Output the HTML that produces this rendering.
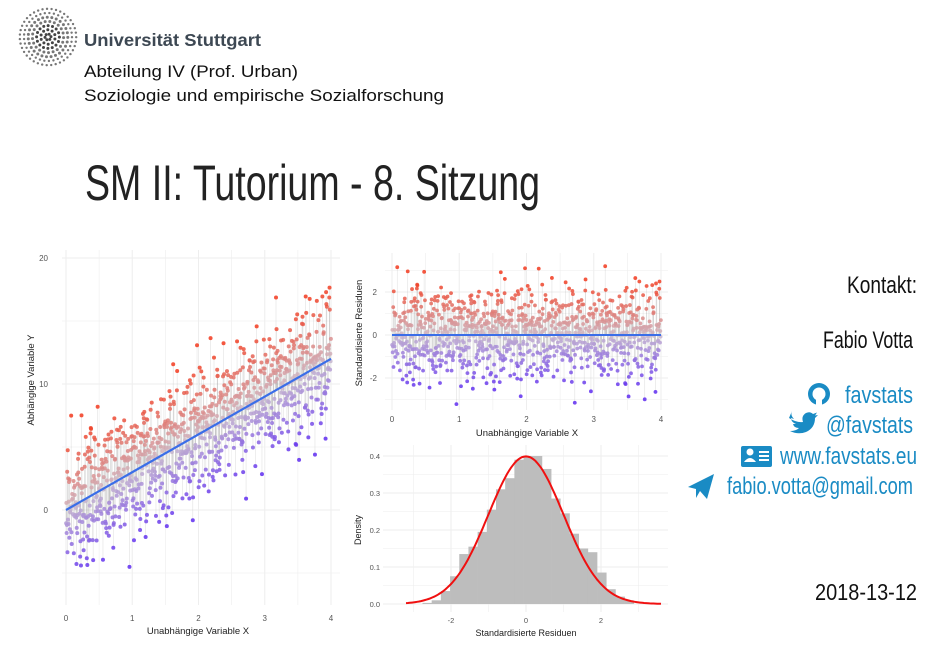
<!DOCTYPE html>
<html><head><meta charset="utf-8"><style>
html,body{margin:0;padding:0;background:#fff;width:948px;height:656px;overflow:hidden}
svg{display:block}
text{font-family:"Liberation Sans",sans-serif}
.cond{font-family:"Liberation Sans Narrow","Liberation Sans",sans-serif}
</style></head><body>
<svg id="page" width="948" height="656" viewBox="0 0 948 656" xmlns="http://www.w3.org/2000/svg">
<g id="logo"></g>
<text x="84" y="46" font-size="17.5" font-weight="bold" fill="#3d4853" textLength="177" lengthAdjust="spacingAndGlyphs">Universität Stuttgart</text>
<text x="84" y="77" font-size="16.5" fill="#111" textLength="214" lengthAdjust="spacingAndGlyphs">Abteilung IV (Prof. Urban)</text>
<text x="84" y="101" font-size="16.5" fill="#111" textLength="360" lengthAdjust="spacingAndGlyphs">Soziologie und empirische Sozialforschung</text>
<text class="cond" x="85" y="200" font-size="50" fill="#222" textLength="455" lengthAdjust="spacingAndGlyphs">SM II: Tutorium - 8. Sitzung</text>

<text class="cond" x="917" y="293" font-size="24" fill="#111" text-anchor="end" textLength="70" lengthAdjust="spacingAndGlyphs">Kontakt:</text>
<text class="cond" x="913" y="348" font-size="24" fill="#111" text-anchor="end" textLength="90" lengthAdjust="spacingAndGlyphs">Fabio Votta</text>
<g fill="#1a8bc4">
<text class="cond" x="913" y="403" font-size="24" text-anchor="end" textLength="68" lengthAdjust="spacingAndGlyphs">favstats</text>
<text class="cond" x="913" y="433" font-size="24" text-anchor="end" textLength="87" lengthAdjust="spacingAndGlyphs">@favstats</text>
<text class="cond" x="917" y="464" font-size="24" text-anchor="end" textLength="137" lengthAdjust="spacingAndGlyphs">www.favstats.eu</text>
<text class="cond" x="913" y="494" font-size="24" text-anchor="end" textLength="186" lengthAdjust="spacingAndGlyphs">fabio.votta@gmail.com</text>
<g><circle cx="819" cy="394" r="11"/><circle cx="819" cy="394" r="6.5" fill="#fff"/><rect x="816" y="398" width="6" height="8" fill="#fff"/></g>
<path d="M789 418 q8 5 14 4 q-2-6 3-9 q4-2 7 1 l4-1.5 -2 3 3-0.5 -3 3 q0 10-9 14 q-8 3-16-1 q6 0 9-3 q-5 0-6-4 h3 q-5-2-5-6 l3 1 q-4-4-2-8z"/>
<g><rect x="741" y="446" width="31" height="21" rx="2"/><circle cx="750" cy="452" r="3.5" fill="#fff"/><path d="M744 462 q6-8 12 0z" fill="#fff"/><rect x="759" y="451" width="10" height="2" fill="#fff"/><rect x="759" y="455" width="10" height="2" fill="#fff"/><rect x="759" y="459" width="10" height="2" fill="#fff"/></g>
<path d="M688 487 L714 474 L707 499 L700 491 L696 498 L696 489z"/>
</g>
<text class="cond" x="917" y="600" font-size="23" fill="#111" text-anchor="end" textLength="102" lengthAdjust="spacingAndGlyphs">2018-13-12</text>

<g id="left"></g>
<g id="resid"></g>
<g id="hist"></g>
</svg>
<script>
// ---- data ----
const residualBase = [0.12,-1.35,0.87,-0.42,1.63,-0.08,0.55,-2.11,0.31,-0.76,1.12,-0.29,2.05,-1.58,0.04,0.68,-0.93,1.41,-0.17,-0.61,0.93,-1.22,0.26,1.84,-0.49,-0.02,0.72,-1.76,0.39,1.05,-0.35,-1.03,0.15,2.41,-0.84,0.58,-0.21,1.27,-2.6,0.47,-0.66,0.81,-0.12,1.56,-1.41,0.21,-0.53,0.99,-0.97,0.36,1.73,-0.27,-1.89,0.63,0.09,-0.71,1.19,-0.38,2.72,-1.14,0.44,-0.05,0.77,-1.52,0.28,-0.88,1.35,-0.23,0.52,-2.31,1.01,-0.45,0.18,-1.27,0.85,1.96,-0.58,-0.14,0.67,-1.67,0.33,1.48,-0.79,0.02,-0.31,1.09,-1.07,0.49,-0.19,2.23,-0.64,0.74,-1.45,0.24,-0.9,1.21,-0.41,0.61,-1.99,0.11];
const pointCount = 1000;
const fitIntercept = 0;
const fitSlope = 3;
const residualSd = 2.3;
const leftYTicks = [0,10,20];
const xTicks = [0,1,2,3,4];
const residYTicks = [-2,0,2];
const histBinStart = -2.76;
const histBinWidth = 0.245;
const histHeights = [0.003,0.01,0.035,0.075,0.135,0.155,0.195,0.255,0.31,0.34,0.39,0.40,0.40,0.365,0.285,0.245,0.19,0.15,0.14,0.085,0.04,0.02,0.01];
const histXTicks = [-2,0,2];
const histYTicks = [0,0.1,0.2,0.3,0.4];

const NS="http://www.w3.org/2000/svg";
function mk(parent,tag,attrs,txt){const e=document.createElementNS(NS,tag);for(const k in attrs)e.setAttribute(k,attrs[k]);if(txt!==undefined)e.textContent=txt;parent.appendChild(e);return e;}
function lerp(a,b,t){return a+(b-a)*t}
function col(t){t=Math.max(-1,Math.min(1,t));const lo=[95,45,240],mid=[205,190,205],hi=[242,58,30];const c=t<0?lo:hi;const s=Math.pow(Math.abs(t),0.8);return `rgb(${Math.round(lerp(mid[0],c[0],s))},${Math.round(lerp(mid[1],c[1],s))},${Math.round(lerp(mid[2],c[2],s))})`;}

// logo
const logo=document.getElementById('logo');
for(let r=3;r<=30;r+=4.2){const n=Math.max(6,Math.round(2*Math.PI*r/4.6));for(let k=0;k<n;k++){const a=2*Math.PI*k/n+r;const d=mk(logo,'circle',{cx:48+r*Math.cos(a),cy:37+r*Math.sin(a),r:r<20?1.5:1.2,fill:r<14?'#444':'#777'});

}}

// points
const pts=[];
for(let i=0;i<pointCount;i++){const j=(i*53+17)%pointCount;const x=4*(j+0.5)/pointCount;const z=residualBase[(i*37)%100]*0.8+0.6*residualBase[(i*61+11)%97];pts.push({x,z});}

// ---- left chart ----
(function(){
const g=document.getElementById('left');
const X=v=>66+v*(331-66)/4, Y=v=>510-v*12.6;
for(let v=-5;v<=20;v+=5)mk(g,'line',{x1:62,x2:340,y1:Y(v),y2:Y(v),stroke:'#eee','stroke-width':v%10===0?1:0.6});
for(let v=0;v<=4;v+=0.5)mk(g,'line',{x1:X(v),x2:X(v),y1:250,y2:605,stroke:'#eee','stroke-width':v%1===0?1:0.6});
pts.forEach(p=>{const yf=fitIntercept+fitSlope*p.x;const y=yf+p.z*residualSd;
const s=mk(g,'line',{x1:X(p.x),x2:X(p.x),y1:Y(yf),y2:Y(y),stroke:'rgba(110,110,110,0.2)','stroke-width':0.6});

});
pts.forEach(p=>{const y=fitIntercept+fitSlope*p.x+p.z*residualSd;
const c=mk(g,'circle',{cx:X(p.x),cy:Y(y),r:2,fill:col(p.z/2.6),'fill-opacity':0.85});

});
const l=mk(g,'line',{x1:X(0),x2:X(4),y1:Y(fitIntercept),y2:Y(fitIntercept+fitSlope*4),stroke:'#3a6ee8','stroke-width':2.2});


leftYTicks.forEach(v=>{const t=mk(g,'text',{x:48,y:Y(v)+3,'font-size':8,fill:'#555','text-anchor':'end'},v);

});
xTicks.forEach(v=>{const t=mk(g,'text',{x:X(v),y:621,'font-size':8,fill:'#555','text-anchor':'middle'},v);

});
const xl=mk(g,'text',{x:198,y:634,'font-size':9.5,fill:'#222','text-anchor':'middle'},'Unabhängige Variable X');


const yl=mk(g,'text',{x:0,y:0,'font-size':9.5,fill:'#222','text-anchor':'middle',transform:'translate(34,380) rotate(-90)'},'Abhängige Variable Y');


})();

// ---- residual chart ----
(function(){
const g=document.getElementById('resid');
const X=v=>392+v*(661-392)/4, Y=v=>335-v*21.5;
for(let v=-3;v<=3;v+=1)mk(g,'line',{x1:385,x2:668,y1:Y(v),y2:Y(v),stroke:'#eee','stroke-width':v%2===0?1:0.6});
for(let v=0;v<=4;v+=0.5)mk(g,'line',{x1:X(v),x2:X(v),y1:253,y2:410,stroke:'#eee','stroke-width':v%1===0?1:0.6});
pts.forEach(p=>{const s=mk(g,'line',{x1:X(p.x),x2:X(p.x),y1:Y(0),y2:Y(p.z),stroke:'rgba(110,110,110,0.2)','stroke-width':0.6});

});
pts.forEach(p=>{const c=mk(g,'circle',{cx:X(p.x),cy:Y(p.z),r:1.9,fill:col(p.z/2.6),'fill-opacity':0.85});

});
const l=mk(g,'line',{x1:X(0),x2:X(4),y1:Y(0),y2:Y(0),stroke:'#3a6ee8','stroke-width':2});


residYTicks.forEach(v=>{const t=mk(g,'text',{x:377,y:Y(v)+3,'font-size':8,fill:'#555','text-anchor':'end'},v);

});
xTicks.forEach(v=>{const t=mk(g,'text',{x:X(v),y:422,'font-size':8,fill:'#555','text-anchor':'middle'},v);

});
const xl=mk(g,'text',{x:527,y:436,'font-size':9.5,fill:'#222','text-anchor':'middle'},'Unabhängige Variable X');


const yl=mk(g,'text',{x:0,y:0,'font-size':9.5,fill:'#222','text-anchor':'middle',transform:'translate(362,333) rotate(-90)'},'Standardisierte Residuen');


})();

// ---- histogram ----
(function(){
const g=document.getElementById('hist');
const X=v=>526+v*37.5, Y=v=>604-v*370;
for(let v=0;v<=0.4;v+=0.05)mk(g,'line',{x1:383,x2:668,y1:Y(v),y2:Y(v),stroke:'#eee','stroke-width':Math.round(v*100)%10===0?1:0.6});
for(let v=-3;v<=3;v+=1)mk(g,'line',{x1:X(v),x2:X(v),y1:445,y2:612,stroke:'#eee','stroke-width':v%2===0?1:0.6});
histHeights.forEach((h,i)=>{const a=histBinStart+i*histBinWidth;const r=mk(g,'rect',{x:X(a),y:Y(h),width:X(a+histBinWidth)-X(a)+0.3,height:Y(0)-Y(h),fill:'#bdbdbd'});

});
let d='';for(let v=-3.2;v<=3.61;v+=0.05){const y=Math.exp(-v*v/2)/Math.sqrt(2*Math.PI);d+=(d?'L':'M')+X(v).toFixed(1)+' '+Y(y).toFixed(1);}
const c=mk(g,'path',{d,fill:'none',stroke:'#f01010','stroke-width':2});


histYTicks.forEach(v=>{const t=mk(g,'text',{x:380,y:Y(v)+3,'font-size':7.5,fill:'#555','text-anchor':'end'},v.toFixed(1));

});
histXTicks.forEach(v=>{const t=mk(g,'text',{x:X(v),y:623,'font-size':7.5,fill:'#555','text-anchor':'middle'},v);

});
const xl=mk(g,'text',{x:526,y:636,'font-size':9,fill:'#222','text-anchor':'middle'},'Standardisierte Residuen');


const yl=mk(g,'text',{x:0,y:0,'font-size':9,fill:'#222','text-anchor':'middle',transform:'translate(361,530) rotate(-90)'},'Density');


})();
</script>
</body></html>
